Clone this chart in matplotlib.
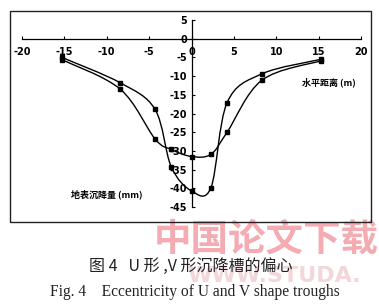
import numpy as np
import matplotlib
matplotlib.use("Agg")
import matplotlib.pyplot as plt
from matplotlib.path import Path
from matplotlib.patches import PathPatch, Rectangle

plt.rcParams['axes.unicode_minus'] = False

# ---------------- data ----------------
dist_v = [-15.3, -8.4, -4.3, -2.4, 0.0, 2.3, 4.2, 8.3, 15.3]
settle_v = [-5.0, -11.8, -18.9, -34.2, -40.7, -39.8, -17.1, -9.4, -5.5]
dist_u = [-15.3, -8.4, -4.3, -2.4, 0.0, 2.3, 4.2, 8.3, 15.3]
settle_u = [-5.6, -13.5, -26.8, -29.6, -31.5, -30.9, -25.0, -11.1, -5.9]

x_ticks = [-20, -15, -10, -5, 0, 5, 10, 15, 20]
y_ticks = [5, 0, -5, -10, -15, -20, -25, -30, -35, -40, -45]

cjk = ['Noto Sans CJK SC', 'DejaVu Sans']


def smooth_path(xs, ys):
    # Catmull-Rom style smoothing turned into cubic bezier segments
    p = np.column_stack([xs, ys])
    n = len(p)
    verts = [p[0]]
    codes = [Path.MOVETO]
    for i in range(n - 1):
        p0 = p[i - 1] if i > 0 else p[i]
        p3 = p[i + 2] if i + 2 < n else p[i + 1]
        c1 = p[i] + (p[i + 1] - p0) / 6.0
        c2 = p[i + 1] - (p3 - p[i]) / 6.0
        verts += [c1, c2, p[i + 1]]
        codes += [Path.CURVE4] * 3
    return Path(verts, codes)


fig = plt.figure(figsize=(3.79, 3.07), dpi=100)

# outer chart frame
fig.patches.append(Rectangle((10 / 379, 85 / 307), 361 / 379, 211 / 307,
                             transform=fig.transFigure, fill=False,
                             edgecolor='#222222', linewidth=1.0))

ax = fig.add_axes([22 / 379, 100 / 307, 339 / 379, 187 / 307])
ax.set_xlim(-20, 20)
ax.set_ylim(-45, 5)
ax.patch.set_visible(False)
for s in ['top', 'right']:
    ax.spines[s].set_visible(False)
ax.spines['left'].set_position(('data', 0))
ax.spines['bottom'].set_position(('data', 0))
ax.spines['left'].set_linewidth(0.9)
ax.spines['bottom'].set_linewidth(0.9)

ax.set_xticks(x_ticks)
ax.set_yticks(y_ticks)
ax.tick_params(direction='in', length=2.5, width=0.8, labelsize=7)
ax.tick_params(axis='x', pad=6)
ax.tick_params(axis='y', pad=3)
for lab in ax.get_xticklabels() + ax.get_yticklabels():
    lab.set_fontweight('bold')

for xs, ys in [(dist_v, settle_v), (dist_u, settle_u)]:
    ax.add_patch(PathPatch(smooth_path(xs, ys), facecolor='none',
                           edgecolor='black', linewidth=1.0))
    ax.plot(xs, ys, linestyle='none', marker='s', markersize=3.2, color='black')

ax.text(16.2, -11.8, '水平距离 (m)', family=cjk, fontsize=6.5, fontweight='bold',
        ha='center', va='center')
ax.text(-10.0, -41.6, '地表沉降量 (mm)', family=cjk, fontsize=6.5, fontweight='bold',
        ha='center', va='center')

# watermark of the source site
fig.text(266 / 379, 1 - 239 / 307, '中国论文下载', family=cjk, fontsize=27,
         fontweight='bold', color='#f4abb2', ha='center', va='center', zorder=0)
fig.text(187 / 379, 1 - 276 / 307, 'WWW.STUDA.', family='DejaVu Sans', fontsize=16,
         fontweight='bold', color='#f3d6da', ha='left', va='center', zorder=0)

fig.text(191 / 379, 1 - 266 / 307, '图 4   U 形 ,V 形沉降槽的偏心', family=cjk,
         fontsize=11.5, ha='center', va='center', color='#222222')
fig.text(195 / 379, 1 - 292 / 307, 'Fig. 4    Eccentricity of U and V shape troughs',
         family='Liberation Serif', fontsize=11.2, ha='center', va='center',
         color='#222222')

fig.savefig('out.png', dpi=100)
